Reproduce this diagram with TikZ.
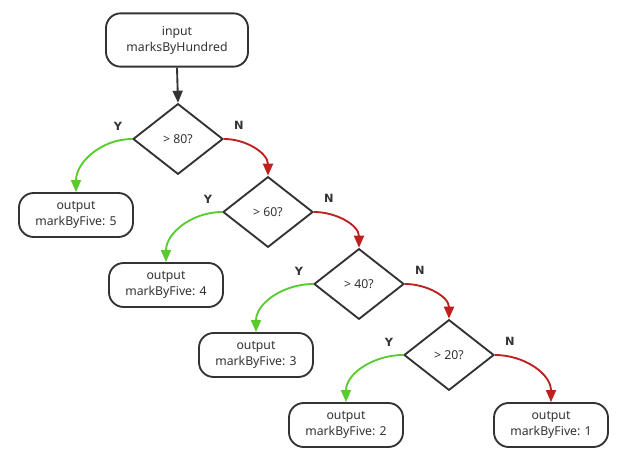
\documentclass[tikz,border=0pt]{standalone}
\usepackage{fontspec}
\setmainfont{Noto Sans}
\newfontfamily\labfont{DejaVu Sans}
\usetikzlibrary{shapes.geometric,arrows.meta}
\definecolor{edge}{RGB}{51,51,51}
\definecolor{yescol}{RGB}{88,204,46}
\definecolor{nocol}{RGB}{190,32,30}
\tikzset{
    term/.style={draw=edge, line width=1.4pt, rounded corners=11pt, fill=white,
        minimum width=85.5pt, minimum height=33pt, align=center, text=edge,
        font=\fontsize{9.2}{12}\selectfont},
    test/.style={diamond, draw=edge, line width=1.4pt, fill=white, inner sep=0pt,
        minimum width=67.5pt, minimum height=53pt, text=edge,
        font=\fontsize{9.2}{12}\selectfont},
    lab/.style={text=edge, font=\labfont\fontsize{8.5}{10}\selectfont\bfseries},
    yesarr/.style={yescol, line width=1.4pt, -{Triangle[length=9pt,width=7.5pt]}},
    noarr/.style={nocol, line width=1.4pt, -{Triangle[length=9pt,width=7.5pt]}},
    startarr/.style={edge, line width=1.4pt, -{Triangle[length=9pt,width=7.5pt]}}
}
\begin{document}
\begin{tikzpicture}[x=0.75pt, y=-0.75pt]
    \useasboundingbox (0,0) rectangle (619,454);
    \node[term, minimum width=106.5pt, minimum height=40pt] (in) at (177,40) {input\\marksByHundred};
    \foreach \i/\x/\y/\v in {1/178/139/80, 2/268/212/60, 3/359/284/40, 4/449/355/20}{
        \node[test] (d\i) at (\x,\y) {> \v?};
        \node[lab] at ([shift={(-14,-13)}]d\i.west) {Y};
        \node[lab] at ([shift={(15,-14)}]d\i.east) {N};
    };
    \foreach \i/\x/\y/\m in {1/76/215/5, 2/166/285/4, 3/256/355/3, 4/346/425/2}{
        \node[term] (o\i) at (\x,\y) {output\\markByFive: \m};
    };
    \node[term] (o5) at (551,425) {output\\markByFive: 1};
    % connectors
    \draw[startarr] (in.south) -- (d1.north);
    \foreach \i in {1,2,3,4}{
        \draw[yesarr] (d\i.west) to[out=180, in=90] (o\i.north);
    };
    \foreach \i/\j in {1/2, 2/3, 3/4}{
        \draw[noarr] (d\i.east) to[out=0, in=90] (d\j.north);
    };
    \draw[noarr] (d4.east) to[out=0, in=90] (o5.north);
\end{tikzpicture}
\end{document}
